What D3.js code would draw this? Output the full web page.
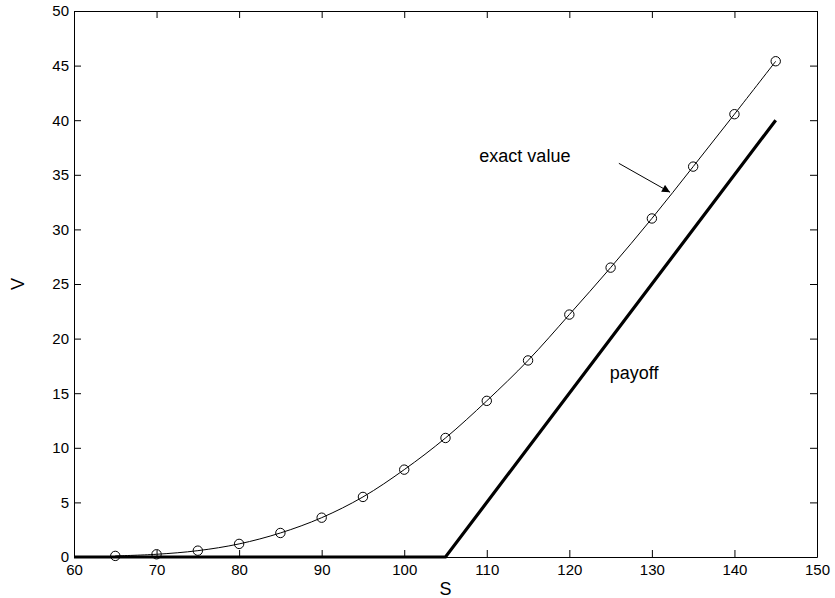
<!DOCTYPE html>
<html>
<head>
<meta charset="utf-8">
<script src="https://cdn.jsdelivr.net/npm/d3@7"></script>
<style>
  body { margin: 0; background: #fff; }
  svg { display: block; font-family: "Liberation Sans", Arial, sans-serif; }
</style>
</head>
<body>
<svg id="chart" width="835" height="598"></svg>
<script>
// option value vs asset price, with payoff

// S grid where the exact value is marked
const sValues = [65, 70, 75, 80, 85, 90, 95, 100, 105, 110, 115, 120, 125, 130, 135, 140, 145];
// exact value
const exactValues = [0.1, 0.25, 0.58, 1.2, 2.2, 3.6, 5.5, 8.0, 10.9, 14.3, 18.0, 22.2, 26.5, 31.0, 35.75, 40.55, 45.4];
// payoff max(S - K, 0) corners
const payoffS = [60, 105, 145];
const payoffV = [0, 0, 40];

const xTicks = [60, 70, 80, 90, 100, 110, 120, 130, 140, 150];
const yTicks = [0, 5, 10, 15, 20, 25, 30, 35, 40, 45, 50];

// annotations (data coords)
const exactLabel = { text: "exact value", s: 109.1, v: 36.2 };
const payoffLabel = { text: "payoff", s: 124.9, v: 16.3 };
const arrowFrom = [126.0, 36.05];
const arrowTo = [132.2, 33.4];

const svg = d3.select("#chart");
const margin = { left: 74, right: 18, top: 11, bottom: 41 };
const W = 835, H = 598;

const x = d3.scaleLinear().domain([60, 150]).range([margin.left, W - margin.right]);
const y = d3.scaleLinear().domain([0, 50]).range([H - margin.bottom, margin.top]);

svg.append("rect").attr("width", W).attr("height", H).attr("fill", "#fff");

// defs: arrowhead
svg.append("defs").append("marker")
    .attr("id", "head")
    .attr("viewBox", "0 0 10 10")
    .attr("refX", 10).attr("refY", 5)
    .attr("markerWidth", 10).attr("markerHeight", 8)
    .attr("markerUnits", "userSpaceOnUse")
    .attr("orient", "auto")
  .append("path")
    .attr("d", "M0,0 L10,5 L0,10 Z")
    .attr("fill", "#000");

// axes — ticks point inward on all four sides
const tick = 7;
const fontTick = "15px";

const gx = svg.append("g")
    .attr("transform", `translate(0,${y(0)})`)
    .call(d3.axisBottom(x).tickValues(xTicks).tickSizeInner(-tick).tickSizeOuter(0).tickPadding(7));
const gy = svg.append("g")
    .attr("transform", `translate(${x(60)},0)`)
    .call(d3.axisLeft(y).tickValues(yTicks).tickSizeInner(-tick).tickSizeOuter(0).tickPadding(5));
const gt = svg.append("g")
    .attr("transform", `translate(0,${y(50)})`)
    .call(d3.axisTop(x).tickValues(xTicks).tickSizeInner(-tick).tickSizeOuter(0).tickFormat(""));
const gr = svg.append("g")
    .attr("transform", `translate(${x(150)},0)`)
    .call(d3.axisRight(y).tickValues(yTicks).tickSizeInner(-tick).tickSizeOuter(0).tickFormat(""));

[gx, gy, gt, gr].forEach(g => {
    g.selectAll("text").attr("font-size", fontTick).attr("fill", "#000")
        .attr("font-family", "Liberation Sans, Arial, sans-serif");
    g.selectAll("line").attr("stroke", "#000");
    g.select(".domain").attr("stroke", "#000");
});

// payoff (thick)
svg.append("path")
    .datum(d3.zip(payoffS, payoffV))
    .attr("d", d3.line().x(d => x(d[0])).y(d => y(d[1])))
    .attr("fill", "none")
    .attr("stroke", "#000")
    .attr("stroke-width", 3.2);

// exact value curve
const pts = d3.zip(sValues, exactValues);
svg.append("path")
    .datum(pts)
    .attr("d", d3.line().x(d => x(d[0])).y(d => y(d[1])).curve(d3.curveCatmullRom.alpha(0.5)))
    .attr("fill", "none")
    .attr("stroke", "#000")
    .attr("stroke-width", 1);

svg.append("g").selectAll("circle")
    .data(pts)
    .enter()
    .append("circle")
    .attr("cx", d => x(d[0]))
    .attr("cy", d => y(d[1]))
    .attr("r", 4.7)
    .attr("fill", "none")
    .attr("stroke", "#000")
    .attr("stroke-width", 1);

// annotations
svg.append("text")
    .attr("x", x(exactLabel.s)).attr("y", y(exactLabel.v))
    .attr("font-size", "18px")
    .text(exactLabel.text);
svg.append("text")
    .attr("x", x(payoffLabel.s)).attr("y", y(payoffLabel.v))
    .attr("font-size", "18px")
    .text(payoffLabel.text);

svg.append("line")
    .attr("x1", x(arrowFrom[0])).attr("y1", y(arrowFrom[1]))
    .attr("x2", x(arrowTo[0])).attr("y2", y(arrowTo[1]))
    .attr("stroke", "#000")
    .attr("stroke-width", 1)
    .attr("marker-end", "url(#head)");

// axis labels
svg.append("text")
    .attr("x", x(105)).attr("y", 595)
    .attr("text-anchor", "middle")
    .attr("font-size", "18px")
    .text("S");
svg.append("text")
    .attr("transform", `translate(24,${(y(0) + y(50)) / 2}) rotate(-90)`)
    .attr("text-anchor", "middle")
    .attr("font-size", "18px")
    .text("V");
</script>
</body>
</html>
